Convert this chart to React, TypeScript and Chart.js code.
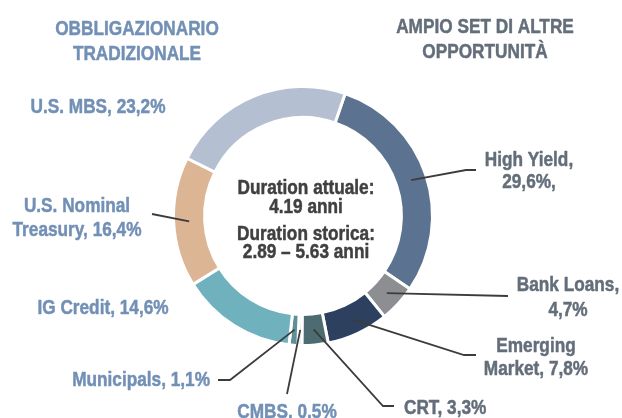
import React, { useEffect, useRef } from "react";
import { Chart, registerables } from "chart.js";

Chart.register(...registerables);

// ---- data ----
const categories = [
  "High Yield",
  "Bank Loans",
  "Emerging Market",
  "CRT",
  "CMBS",
  "Municipals",
  "IG Credit",
  "U.S. Nominal Treasury",
  "U.S. MBS",
];
const shares = [29.6, 4.7, 7.8, 3.3, 0.5, 1.1, 14.6, 16.4, 23.2];
const sliceColors = [
  "#5b7391",
  "#8d8e91",
  "#2d405f",
  "#4d6c72",
  "#d3dbe2",
  "#5f9099",
  "#6fb2bd",
  "#dcb595",
  "#b4bfd2",
];
const sliceLabels = [
  ["High Yield,", "29,6%,"],
  ["Bank Loans,", "4,7%"],
  ["Emerging", "Market, 7,8%"],
  ["CRT, 3,3%"],
  ["CMBS, 0.5%"],
  ["Municipals, 1,1%"],
  ["IG Credit, 14,6%"],
  ["U.S. Nominal", "Treasury, 16,4%"],
  ["U.S. MBS, 23,2%"],
];
const leftTitle = ["OBBLIGAZIONARIO", "TRADIZIONALE"];
const rightTitle = ["AMPIO SET DI ALTRE", "OPPORTUNITÀ"];
const centerText = ["Duration attuale:", "4.19 anni", "Duration storica:", "2.89 – 5.63 anni"];

// ---- layout / style (not data) ----
const BLUE = "#7290b6";
const GRAY = "#646e7a";
const DARK = "#404040";
const LINE = "#3c3c3c";

type LabelLayout = {
  x: number;
  y: number;
  lh: number;
  align: CanvasTextAlign;
  color: string;
  path: number[][];
};

const labelLayout: LabelLayout[] = [
  { x: 529, y: 166, lh: 22, align: "center", color: GRAY, path: [[466, 170], [476, 170]] },
  { x: 568, y: 291, lh: 25, align: "center", color: GRAY, path: [[508, 296]] },
  { x: 536, y: 352, lh: 23, align: "center", color: GRAY, path: [[464, 355], [476, 355]] },
  { x: 404, y: 414, lh: 24, align: "left", color: GRAY, path: [[383, 406], [394, 406]] },
  { x: 287, y: 418, lh: 24, align: "center", color: BLUE, path: [[287, 394]] },
  { x: 210, y: 386, lh: 24, align: "right", color: BLUE, path: [[230, 380], [218, 380]] },
  { x: 103, y: 314, lh: 24, align: "center", color: BLUE, path: [] },
  { x: 77, y: 212, lh: 24, align: "center", color: BLUE, path: [[152, 214]] },
  { x: 98, y: 113, lh: 24, align: "center", color: BLUE, path: [] },
];

const NARROW = '"Liberation Sans Narrow", "Arial Narrow"';

function pickFont(ctx: CanvasRenderingContext2D) {
  ctx.font = `bold 21px ${NARROW}, monospace`;
  const a = ctx.measureText("OBBLIGAZIONARIO").width;
  ctx.font = "bold 21px monospace";
  const b = ctx.measureText("OBBLIGAZIONARIO").width;
  if (Math.abs(a - b) > 0.5) return { family: `${NARROW}, sans-serif`, sx: 1 };
  return { family: '"Liberation Sans", Arial, sans-serif', sx: 0.82 };
}

function drawText(
  ctx: CanvasRenderingContext2D,
  f: { family: string; sx: number },
  text: string,
  x: number,
  y: number,
  align: CanvasTextAlign,
  color: string,
  size = 21
) {
  ctx.save();
  ctx.font = `bold ${size}px ${f.family}`;
  ctx.fillStyle = color;
  ctx.strokeStyle = color;
  ctx.lineWidth = 0.5;
  ctx.lineJoin = "round";
  ctx.textAlign = align;
  ctx.textBaseline = "alphabetic";
  ctx.translate(x, y);
  ctx.scale(f.sx, 1);
  ctx.fillText(text, 0, 0);
  ctx.strokeText(text, 0, 0);
  ctx.restore();
}

const annotations = {
  id: "annotations",
  afterDraw(chart: any) {
    const ctx: CanvasRenderingContext2D = chart.ctx;
    const f = pickFont(ctx);
    // titles
    leftTitle.forEach((t, i) => drawText(ctx, f, t, 137, 35 + i * 25, "center", BLUE));
    rightTitle.forEach((t, i) => drawText(ctx, f, t, 485, 33 + i * 25, "center", GRAY));
    // center text
    const cy = [194, 213, 240, 258];
    centerText.forEach((t, i) => drawText(ctx, f, t, 306, cy[i], "center", DARK));
    // slice labels and leaders
    const meta = chart.getDatasetMeta(0);
    meta.data.forEach((arc: any, i: number) => {
      const L = labelLayout[i];
      if (L.path.length) {
        const p = arc.tooltipPosition(false);
        ctx.save();
        ctx.strokeStyle = LINE;
        ctx.lineWidth = 1.8;
        ctx.beginPath();
        ctx.moveTo(p.x, p.y);
        L.path.forEach((pt) => ctx.lineTo(pt[0], pt[1]));
        ctx.stroke();
        ctx.restore();
      }
      sliceLabels[i].forEach((t, k) => drawText(ctx, f, t, L.x, L.y + k * L.lh, L.align, L.color));
    });
  },
};

export default function App() {
  const ref = useRef<HTMLCanvasElement | null>(null);
  useEffect(() => {
    if (!ref.current) return;
    const chart = new Chart(ref.current, {
      type: "doughnut",
      data: {
        labels: categories,
        datasets: [
          {
            data: shares,
            backgroundColor: sliceColors,
            borderColor: "#ffffff",
            borderWidth: 3,
            hoverOffset: 0,
          },
        ],
      },
      options: {
        responsive: false,
        animation: false,
        rotation: 19,
        cutout: "76%",
        events: [],
        layout: { padding: { left: 172, right: 188, top: 85, bottom: 71 } },
        plugins: { legend: { display: false }, tooltip: { enabled: false } },
      },
      plugins: [annotations],
    });
    return () => chart.destroy();
  }, []);
  return (
    <div style={{ position: "fixed", left: 0, top: 0, width: 622, height: 418, background: "#fff" }}>
      <canvas ref={ref} width={622} height={418} style={{ display: "block" }} />
    </div>
  );
}
